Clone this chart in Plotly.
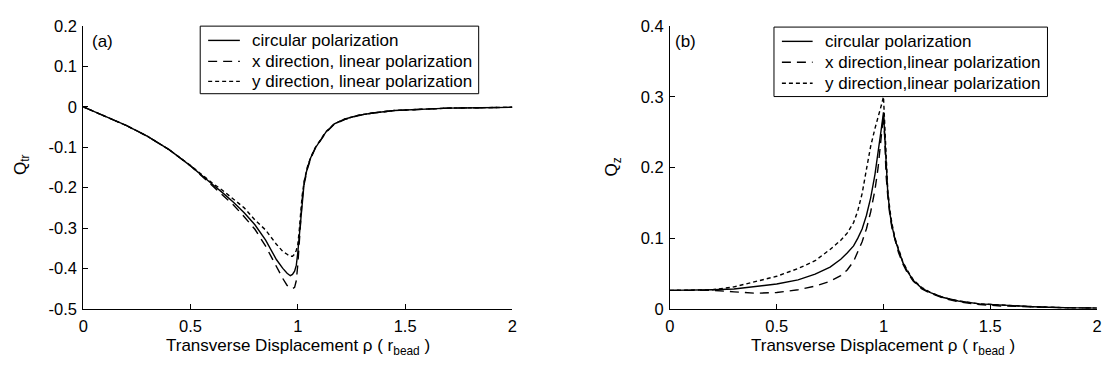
import plotly.graph_objects as go

# ---------------- data ----------------
# (a) transverse trapping efficiency Q_tr vs displacement rho (in r_bead)
rho_a = [0, 0.1, 0.2, 0.3, 0.4, 0.5, 0.56, 0.6, 0.65, 0.7, 0.75, 0.8, 0.85, 0.9,
         0.93, 0.95, 0.965, 0.975, 0.985, 0.993, 1.0, 1.006, 1.013, 1.02, 1.03,
         1.045, 1.06, 1.08, 1.1, 1.13, 1.17, 1.22, 1.28, 1.35, 1.45, 1.55, 1.7,
         1.85, 2.0]
qtr_circular = [0, -0.022, -0.046, -0.073, -0.106, -0.146, -0.174, -0.191, -0.213,
                -0.236, -0.262, -0.292, -0.33, -0.378, -0.400, -0.412, -0.418,
                -0.415, -0.407, -0.392, -0.36, -0.325, -0.27, -0.224, -0.185,
                -0.15, -0.126, -0.103, -0.087, -0.063, -0.042, -0.030, -0.021,
                -0.015, -0.009, -0.006, -0.003, -0.002, -0.001]
qtr_xlinear = [0, -0.022, -0.046, -0.073, -0.106, -0.146, -0.175, -0.194, -0.218,
               -0.243, -0.272, -0.303, -0.345, -0.397, -0.425, -0.442, -0.448,
               -0.45, -0.447, -0.43, -0.39, -0.34, -0.28, -0.23, -0.19, -0.153,
               -0.128, -0.104, -0.088, -0.064, -0.043, -0.031, -0.022, -0.015,
               -0.009, -0.006, -0.003, -0.002, -0.001]
qtr_ylinear = [0, -0.022, -0.046, -0.073, -0.106, -0.145, -0.172, -0.188, -0.207,
               -0.228, -0.25, -0.28, -0.305, -0.34, -0.358, -0.365, -0.37, -0.37,
               -0.365, -0.355, -0.34, -0.31, -0.265, -0.22, -0.183, -0.148, -0.125,
               -0.102, -0.086, -0.062, -0.042, -0.030, -0.021, -0.015, -0.009,
               -0.006, -0.003, -0.002, -0.001]

# (b) axial trapping efficiency Q_z vs displacement rho (in r_bead)
rho_b = [0, 0.1, 0.2, 0.3, 0.4, 0.5, 0.6, 0.68, 0.75, 0.8, 0.83, 0.86, 0.88, 0.9,
         0.92, 0.94, 0.96, 0.975, 0.99, 1.0, 1.006, 1.012, 1.02, 1.03, 1.04, 1.055,
         1.07, 1.09, 1.11, 1.14, 1.18, 1.22, 1.28, 1.35, 1.45, 1.55, 1.7, 1.85, 2.0]
qz_circular = [0.026, 0.026, 0.027, 0.028, 0.031, 0.035, 0.041, 0.049, 0.059, 0.07,
               0.079, 0.089, 0.1, 0.113, 0.132, 0.157, 0.19, 0.22, 0.255, 0.278,
               0.24, 0.195, 0.165, 0.135, 0.117, 0.097, 0.083, 0.066, 0.054, 0.040,
               0.029, 0.023, 0.016, 0.011, 0.007, 0.005, 0.003, 0.0015, 0.001]
qz_xlinear = [0.026, 0.026, 0.026, 0.024, 0.022, 0.023, 0.027, 0.032, 0.039, 0.047,
              0.055, 0.067, 0.08, 0.095, 0.113, 0.137, 0.168, 0.2, 0.245, 0.275,
              0.24, 0.19, 0.16, 0.132, 0.114, 0.095, 0.08, 0.064, 0.052, 0.039,
              0.028, 0.022, 0.015, 0.010, 0.006, 0.004, 0.0025, 0.0015, 0.001]
qz_ylinear = [0.026, 0.026, 0.027, 0.031, 0.039, 0.046, 0.057, 0.068, 0.084, 0.097,
              0.107, 0.122, 0.139, 0.163, 0.197, 0.23, 0.255, 0.27, 0.288, 0.30,
              0.26, 0.205, 0.168, 0.14, 0.12, 0.099, 0.084, 0.067, 0.055, 0.041,
              0.030, 0.023, 0.016, 0.011, 0.007, 0.005, 0.003, 0.0015, 0.001]

names_a = ["circular polarization", "x direction, linear polarization",
           "y direction, linear polarization"]
names_b = ["circular polarization", "x direction,linear polarization",
           "y direction,linear polarization"]

# ---------------- figure ----------------
W, H = 1105, 373
FONT = "Liberation Sans, Arial, sans-serif"
DASHES = ["solid", "9px,6px", "4px,3px"]
LW = 1.4

fig = go.Figure()
for ys, nm, ds in zip([qtr_circular, qtr_xlinear, qtr_ylinear], names_a, DASHES):
    fig.add_trace(go.Scatter(x=rho_a, y=ys, name=nm, mode="lines",
                             line=dict(color="black", width=LW, dash=ds),
                             xaxis="x", yaxis="y", showlegend=False))
for ys, nm, ds in zip([qz_circular, qz_xlinear, qz_ylinear], names_b, DASHES):
    fig.add_trace(go.Scatter(x=rho_b, y=ys, name=nm, mode="lines",
                             line=dict(color="black", width=LW, dash=ds),
                             xaxis="x2", yaxis="y2", showlegend=False))

# plot area placement in pixels
ax_a = (79, 512)
ax_b = (671, 1102)
y_top, y_bot = 18, 315
ydom = [1 - y_bot / H, 1 - y_top / H]


def px(x):
    return x / W


def py(y):
    return 1 - y / H


axis_common = dict(showline=True, linecolor="black", linewidth=1, mirror=False,
                   ticks="inside", ticklen=5, tickcolor="black", tickwidth=1,
                   showgrid=False, zeroline=False, ticklabelstandoff=2,
                   tickfont=dict(family=FONT, size=16.5, color="black"))

fig.update_layout(
    width=W, height=H,
    margin=dict(l=0, r=0, t=0, b=0),
    paper_bgcolor="white", plot_bgcolor="white",
    font=dict(family=FONT, size=17, color="black"),
    showlegend=False,
    xaxis=dict(domain=[px(ax_a[0]), px(ax_a[1])], range=[0, 2],
               tickvals=[0, 0.5, 1, 1.5, 2], ticktext=["0", "0.5", "1", "1.5", "2"],
               anchor="y", **axis_common),
    yaxis=dict(domain=ydom, range=[-0.5, 0.2],
               tickvals=[-0.5, -0.4, -0.3, -0.2, -0.1, 0, 0.1, 0.2],
               ticktext=["-0.5", "-0.4", "-0.3", "-0.2", "-0.1", "0", "0.1", "0.2"],
               anchor="x", **axis_common),
    xaxis2=dict(domain=[px(ax_b[0]), px(ax_b[1])], range=[0, 2],
                tickvals=[0, 0.5, 1, 1.5, 2], ticktext=["0", "0.5", "1", "1.5", "2"],
                anchor="y2", **axis_common),
    yaxis2=dict(domain=ydom, range=[0, 0.4],
                tickvals=[0, 0.1, 0.2, 0.3, 0.4],
                ticktext=["0", "0.1", "0.2", "0.3", "0.4"],
                anchor="x2", **axis_common),
)

# legend boxes with line samples and labels
legends = [
    # box (x0, y0, x1, y1), sample x-range, text x, row y positions, labels
    dict(box=(197, 18, 478, 89), sample=(205, 237), tx=247, rows=(33, 55, 76),
         labels=names_a),
    dict(box=(776, 19, 1052, 92), sample=(784, 815), tx=825, rows=(34, 56, 78),
         labels=names_b),
]
for lg in legends:
    x0, y0, x1, y1 = lg["box"]
    fig.add_shape(type="rect", xref="paper", yref="paper",
                  x0=px(x0), x1=px(x1), y0=py(y1), y1=py(y0),
                  line=dict(color="black", width=1), fillcolor="white", layer="above")
    for ry, lab, ds in zip(lg["rows"], lg["labels"], DASHES):
        fig.add_shape(type="line", xref="paper", yref="paper",
                      x0=px(lg["sample"][0]), x1=px(lg["sample"][1]),
                      y0=py(ry), y1=py(ry),
                      line=dict(color="black", width=LW, dash=ds), layer="above")
        fig.add_annotation(xref="paper", yref="paper", showarrow=False,
                           x=px(lg["tx"]), y=py(ry), xanchor="left", yanchor="middle",
                           text=lab, font=dict(family=FONT, size=17, color="black"))

title_x = "Transverse Displacement \u03c1 ( r<sub>bead</sub> )"
for cx in ((ax_a[0] + ax_a[1]) / 2, (ax_b[0] + ax_b[1]) / 2):
    fig.add_annotation(xref="paper", yref="paper", showarrow=False,
                       x=px(cx), y=py(342), xanchor="center", yanchor="top",
                       text=title_x, font=dict(family=FONT, size=17, color="black"))

ann = [
    dict(text="Q<sub>tr</sub>", x=px(17), y=py(163), textangle=-90),
    dict(text="Q<sub>z</sub>", x=px(614), y=py(166), textangle=-90),
    dict(text="(a)", x=px(98), y=py(34)),
    dict(text="(b)", x=px(687), y=py(34)),
]
for a in ann:
    fig.add_annotation(xref="paper", yref="paper", showarrow=False,
                       xanchor="center", yanchor="middle",
                       font=dict(family=FONT, size=17, color="black"), **a)

fig.write_html("out.html")
